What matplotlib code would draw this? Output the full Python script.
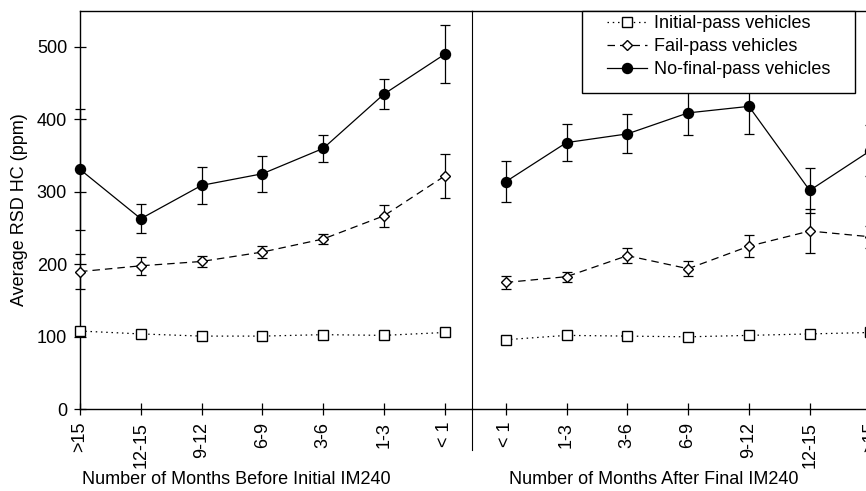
import matplotlib
matplotlib.use('Agg')
import matplotlib.pyplot as plt
from matplotlib.patches import Rectangle

plt.rcParams['font.family'] = ['Liberation Sans', 'DejaVu Sans']
plt.rcParams['font.size'] = 13

# months relative to the IM240 test
before_labels = ['>15', '12-15', '9-12', '6-9', '3-6', '1-3', '< 1']
after_labels = ['< 1', '1-3', '3-6', '6-9', '9-12', '12-15', '>15']

# average RSD HC (ppm) before the initial IM240
initial_before = [108, 104, 101, 101, 103, 102, 106]
fail_before = [190, 198, 204, 217, 235, 267, 322]
fail_before_err = [24, 12, 8, 8, 7, 15, 30]
nfp_before = [331, 263, 309, 325, 360, 435, 490]
nfp_before_err = [83, 20, 26, 25, 19, 21, 40]

# average RSD HC (ppm) after the final IM240
initial_after = [96, 102, 101, 100, 102, 104, 106]
fail_after = [175, 183, 212, 194, 225, 246, 238]
fail_after_err = [9, 7, 10, 10, 15, 30, 15]
nfp_after = [314, 368, 380, 409, 418, 302, 357]
nfp_after_err = [28, 26, 27, 30, 38, 31, 35]

names = ['Initial-pass vehicles', 'Fail-pass vehicles', 'No-final-pass vehicles']

W, H = 866, 491
fig = plt.figure(figsize=(W / 100, H / 100), dpi=100)

step = 60.8          # px between categories
y0, y1 = 409.3, 10.7  # px of the 0 line and the top frame
bottom = 1 - y0 / H
height = (y0 - y1) / H

ax1 = fig.add_axes([80 / W, bottom, (471.5 - 80) / W, height])
ax1.set_xlim(0, (471.5 - 80) / step)
ax2 = fig.add_axes([471.5 / W, bottom, 520 / W, height])
x2_start = -(505.7 - 471.5) / step
ax2.set_xlim(x2_start, x2_start + 520 / step)
ax2.patch.set_visible(False)

styles = [
    dict(marker='s', ms=6.5, mfc='white', mec='black', ls=(0, (1.2, 3)), color='black'),
    dict(marker='D', ms=4.6, mfc='white', mec='black', ls=(0, (6, 4)), color='black'),
    dict(marker='o', ms=7.2, mfc='black', mec='black', ls='-', color='black'),
]


def draw_panel(ax, labels, series, errors):
    x = list(range(len(labels)))
    lines = []
    for vals, err, st in zip(series, errors, styles):
        if err is not None:
            ax.errorbar(x, vals, yerr=err, fmt='none', ecolor='black', elinewidth=0.9,
                        capsize=3.6, capthick=0.9, clip_on=False, zorder=2)
        ln, = ax.plot(x, vals, lw=0.9, zorder=3, clip_on=False, **st)
        lines.append(ln)
    ax.set_ylim(0, 550)
    ax.set_xticks(x)
    ax.set_xticklabels(labels, rotation=90, va='top', ha='center')
    ax.tick_params(axis='x', direction='inout', length=8, width=0.9, pad=5)
    for s in ['left', 'right']:
        ax.spines[s].set_visible(False)
    for s in ['top', 'bottom']:
        ax.spines[s].set_linewidth(1.0)
    return lines


handles = draw_panel(ax1, before_labels,
                     [initial_before, fail_before, nfp_before],
                     [None, fail_before_err, nfp_before_err])
draw_panel(ax2, after_labels,
           [initial_after, fail_after, nfp_after],
           [None, fail_after_err, nfp_after_err])

ax1.spines['left'].set_visible(True)
ax1.spines['left'].set_linewidth(1.0)
ax1.set_yticks([0, 100, 200, 300, 400, 500])
ax1.tick_params(axis='y', direction='inout', length=8.6, width=0.9, pad=5)
ax1.set_ylabel('Average RSD HC (ppm)', labelpad=6)
ax2.set_yticks([])

# divider between the two panels, running below the axis line
ax1.plot([1, 1], [-0.102, 1], transform=ax1.transAxes, color='black',
         lw=0.8, clip_on=False, zorder=4)

fig.text(236 / W, 1 - 479 / H, 'Number of Months Before Initial IM240',
         ha='center', va='center')
fig.text(654 / W, 1 - 479 / H, 'Number of Months After Final IM240',
         ha='center', va='center')

# legend box with a fixed frame
box_l, box_t, box_r, box_b = 582.3, 10.7, 855, 92.7
fig.patches.append(Rectangle((box_l / W, 1 - box_b / H), (box_r - box_l) / W,
                             (box_b - box_t) / H, transform=fig.transFigure,
                             facecolor='white', edgecolor='black', lw=1.0, zorder=4))
fs = 13 * 100 / 72
pad = 0.25
hb_start = box_l + pad * fs
leg = fig.legend(handles, names, loc='upper left',
                 bbox_to_anchor=(box_l / W, 1 - box_t / H), borderaxespad=0,
                 borderpad=pad, frameon=False, handlelength=(646.7 - hb_start) / fs,
                 handletextpad=0.42, labelspacing=0.33,
                 handler_map={ln: matplotlib.legend_handler.HandlerLine2D(
                     xpad=(606.7 - hb_start) / fs) for ln in handles})

fig.savefig('out.png', dpi=100)
